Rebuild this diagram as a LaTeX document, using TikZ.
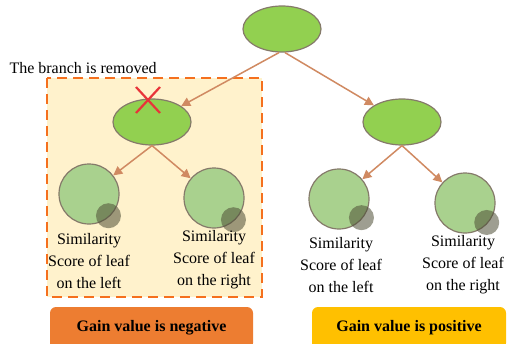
\documentclass[tikz,border=0pt]{standalone}
\usepackage{fontspec}
\setmainfont{Liberation Serif}
\usetikzlibrary{arrows.meta,shapes.geometric}

\definecolor{nodegreen}{HTML}{92D050}
\definecolor{leafgreen}{HTML}{A9D18E}
\definecolor{nodeline}{HTML}{857A6A}
\definecolor{arrowbrown}{HTML}{D08A62}
\definecolor{curlgray}{HTML}{4E4E36}
\definecolor{prunefill}{HTML}{FFF2CC}
\definecolor{pruneline}{HTML}{F5701E}
\definecolor{negorange}{HTML}{ED7D31}
\definecolor{posyellow}{HTML}{FFC000}
\definecolor{crossred}{HTML}{E8343A}

\begin{document}
\begin{tikzpicture}[
  x=1pt, y=-1pt,
  >={Triangle[length=9pt,width=9pt]},
  every node/.style={font=\fontsize{16}{22}\selectfont},
  splitnode/.style={ellipse, draw=nodeline, line width=1.2pt, fill=nodegreen,
                    minimum width=78pt, minimum height=46pt, inner sep=0pt},
  leaf/.style={circle, draw=nodeline, line width=1.2pt, fill=leafgreen,
               minimum size=60pt, inner sep=0pt},
  curl/.style={fill=curlgray, fill opacity=0.55},
  branch/.style={->, line width=1.5pt, draw=arrowbrown, fill=arrowbrown},
  leaftext/.style={align=center},
  gainbox/.style={rectangle, rounded corners=6pt, minimum height=42pt,
                  font=\bfseries\fontsize{16}{20}\selectfont}
]

\clip (0,0) rectangle (508,343);

% pruned branch area
\draw[fill=prunefill, draw=pruneline, line width=1.8pt,
      dash pattern=on 10pt off 6pt] (47,78) rectangle (262,297);
\node[anchor=west] (removed) at (6,68) {The branch is removed};

% tree
\node[splitnode] (root) at (282,29)  {};
\node[splitnode] (lmid) at (152,122) {};
\node[splitnode] (rmid) at (402,122) {};

\node[leaf] (ll) at (89,194)  {};
\node[leaf] (lr) at (214,198) {};
\node[leaf] (rl) at (339,199) {};
\node[leaf] (rr) at (465,203) {};

\fill[curl] ([shift={(-1,-1)}]ll.-48) circle (12.5);
\fill[curl] ([shift={(-1,-1)}]lr.-48) circle (12.5);
\fill[curl] ([shift={(-1,-1)}]rl.-40) circle (12.5);
\fill[curl] ([shift={(-1,-1)}]rr.-42) circle (12.5);

\draw[branch] (root.-97)  -- (lmid);
\draw[branch] (root.-83)  -- (rmid);
\draw[branch] (lmid.south) -- (ll);
\draw[branch] (lmid.south) -- (lr);
\draw[branch] (rmid.south) -- (rl);
\draw[branch] (rmid.south) -- (rr);

% cross on the removed split
\draw[crossred, line width=2.2pt] (136,87)  -- (160,113);
\draw[crossred, line width=2.2pt] (136,113) -- (160,87);

% leaf labels
\node[leaftext] (llt) at (89,261)  {Similarity\\Score of leaf\\on the left};
\node[leaftext] (lrt) at (214,260) {Similarity\\Score of leaf\\on the right};
\node[leaftext] (rlt) at (341,265) {Similarity\\Score of leaf\\on the left};
\node[leaftext] (rrt) at (463,265) {Similarity\\Score of leaf\\on the right};

% gain boxes
\node[gainbox, fill=negorange, minimum width=203pt] (neg) at (151.5,328)
     {Gain value is negative};
\node[gainbox, fill=posyellow, minimum width=194pt] (pos) at (409,328)
     {Gain value is positive};

\end{tikzpicture}
\end{document}
